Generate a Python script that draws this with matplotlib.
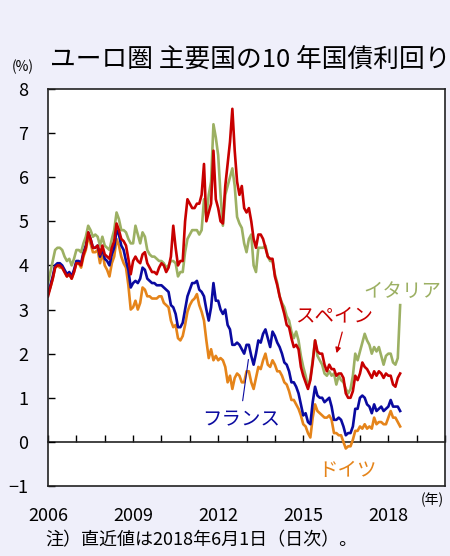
#!/usr/bin/env python3
"""ユーロ圏 主要国の10年国債利回り（月次で読み取り）."""

import numpy as np
import matplotlib
matplotlib.use("Agg")
import matplotlib.pyplot as plt

plt.rcParams["font.family"] = ["Noto Sans CJK JP", "DejaVu Sans"]

# 2006年1月 〜 2018年6月（月次, 150点）
germany = [
    3.35, 3.5, 3.7, 3.95, 4.0, 3.95, 3.95, 3.85, 3.75, 3.8, 3.7, 3.85,
    4.05, 4.05, 3.95, 4.2, 4.35, 4.65, 4.5, 4.3, 4.3, 4.35, 4.05, 4.3,
    4.0, 3.9, 3.75, 4.05, 4.2, 4.6, 4.45, 4.2, 4.05, 3.95, 3.55, 3.0,
    3.05, 3.2, 3.0, 3.15, 3.5, 3.45, 3.3, 3.3, 3.25, 3.25, 3.25, 3.3,
    3.3, 3.15, 3.1, 3.05, 2.75, 2.6, 2.65, 2.35, 2.3, 2.4, 2.65, 2.95,
    3.1, 3.2, 3.25, 3.35, 3.1, 2.95, 2.75, 2.3, 1.9, 2.1, 1.85, 1.95,
    1.85, 1.9, 1.85, 1.7, 1.35, 1.5, 1.2, 1.45, 1.55, 1.5, 1.35, 1.35,
    1.6, 1.6, 1.35, 1.2, 1.45, 1.7, 1.65, 1.85, 2.0, 1.75, 1.7, 1.85,
    1.75, 1.6, 1.6, 1.5, 1.35, 1.3, 1.15, 0.95, 0.95, 0.85, 0.75, 0.6,
    0.4, 0.35, 0.2, 0.1, 0.55, 0.85, 0.7, 0.65, 0.6, 0.55, 0.55, 0.6,
    0.5, 0.2, 0.2, 0.15, 0.15, 0.0, -0.15, -0.1, -0.1, 0.05, 0.25, 0.25,
    0.35, 0.3, 0.4, 0.3, 0.35, 0.3, 0.55, 0.4, 0.45, 0.45, 0.4, 0.4,
    0.55, 0.7, 0.55, 0.55, 0.45, 0.35,
]
france = [
    3.35, 3.55, 3.75, 4.0, 4.05, 4.05, 4.0, 3.9, 3.8, 3.85, 3.75, 3.9,
    4.1, 4.1, 4.05, 4.3, 4.45, 4.75, 4.6, 4.4, 4.4, 4.45, 4.2, 4.4,
    4.15, 4.1, 4.0, 4.25, 4.4, 4.8, 4.7, 4.45, 4.35, 4.1, 3.9, 3.5,
    3.6, 3.65, 3.6, 3.7, 3.95, 3.9, 3.7, 3.65, 3.6, 3.6, 3.55, 3.55,
    3.55, 3.5, 3.45, 3.4, 3.1, 3.05, 2.9, 2.6, 2.6, 2.7, 3.0, 3.3,
    3.45, 3.6, 3.6, 3.65, 3.45, 3.4, 3.3, 3.0, 2.75, 3.05, 3.6, 3.2,
    3.2, 3.0, 2.9, 3.0, 2.65, 2.55, 2.2, 2.2, 2.25, 2.2, 2.1, 2.0,
    2.2, 2.2, 1.95, 1.75, 2.0, 2.3, 2.25, 2.45, 2.55, 2.35, 2.15, 2.5,
    2.4, 2.25, 2.15, 2.0, 1.8, 1.75, 1.6, 1.35, 1.35, 1.25, 1.1, 0.85,
    0.6, 0.65, 0.45, 0.4, 0.9, 1.25, 1.05, 1.0, 1.0, 0.9, 0.95, 1.0,
    0.8, 0.5, 0.5, 0.55, 0.5, 0.35, 0.15, 0.2, 0.2, 0.35, 0.75, 0.75,
    1.0, 1.05, 1.0, 0.85, 0.8, 0.65, 0.85, 0.7, 0.75, 0.8, 0.7, 0.75,
    0.8, 0.95, 0.8, 0.8, 0.8, 0.7,
]
italy = [
    3.6, 3.85, 4.1, 4.35, 4.4, 4.4, 4.35, 4.2, 4.1, 4.15, 4.0, 4.15,
    4.35, 4.35, 4.3, 4.5, 4.65, 4.9, 4.8, 4.65, 4.7, 4.65, 4.45, 4.65,
    4.45, 4.4, 4.35, 4.6, 4.8, 5.2, 5.05, 4.8, 4.8, 4.75, 4.6, 4.5,
    4.5, 4.9, 4.7, 4.5, 4.75, 4.65, 4.35, 4.25, 4.2, 4.2, 4.15, 4.1,
    4.1, 4.05, 3.95, 4.0, 4.1, 4.1, 4.05, 3.75, 3.85, 3.85, 4.3, 4.6,
    4.7, 4.8, 4.8, 4.8, 4.7, 4.8, 5.5, 5.1, 5.6, 5.9, 7.2, 6.9,
    6.5, 5.6, 4.9, 5.6, 5.8, 6.0, 6.2, 5.8, 5.1, 4.95, 4.85, 4.5,
    4.3, 4.6, 4.7, 4.0, 3.85, 4.4, 4.4, 4.4, 4.45, 4.2, 4.1, 4.1,
    3.8, 3.6, 3.3, 3.15, 3.05, 2.85, 2.75, 2.5, 2.35, 2.5, 2.3, 1.95,
    1.7, 1.5, 1.25, 1.45, 1.85, 2.3, 1.95, 1.85, 1.75, 1.55, 1.5, 1.6,
    1.5, 1.55, 1.3, 1.5, 1.4, 1.35, 1.2, 1.1, 1.2, 1.5, 2.0, 1.85,
    2.05, 2.25, 2.45, 2.3, 2.2, 2.0, 2.15, 2.05, 2.15, 1.95, 1.75, 1.95,
    2.0, 2.0, 1.8, 1.75, 1.9, 3.1,
]
spain = [
    3.3, 3.5, 3.7, 3.95, 4.0, 4.0, 3.95, 3.85, 3.75, 3.8, 3.7, 3.85,
    4.05, 4.05, 4.0, 4.25, 4.4, 4.75, 4.6, 4.4, 4.4, 4.45, 4.25, 4.45,
    4.25, 4.2, 4.15, 4.4, 4.55, 4.95, 4.8, 4.6, 4.55, 4.45, 4.15, 3.8,
    4.1, 4.2, 4.1, 4.05, 4.25, 4.3, 4.05, 3.95, 3.85, 3.85, 3.8, 3.95,
    4.05, 4.0, 3.85, 3.95, 4.2, 4.9, 4.4, 4.0, 4.1, 4.1, 5.0, 5.5,
    5.4, 5.3, 5.3, 5.4, 5.4, 5.6, 6.3, 5.0, 5.2, 5.4, 6.6, 5.5,
    5.3, 5.0, 4.95, 5.8, 6.3, 6.8, 7.55, 6.6, 5.9, 5.6, 5.8, 5.3,
    5.2, 5.3, 5.0, 4.6, 4.4, 4.7, 4.7, 4.6, 4.4, 4.2, 4.15, 4.15,
    3.75, 3.55, 3.3, 3.1, 2.9, 2.65, 2.6, 2.35, 2.15, 2.2, 2.1, 1.7,
    1.5, 1.35, 1.2, 1.4, 1.8, 2.3, 2.05, 2.0, 2.0, 1.75, 1.6, 1.75,
    1.65, 1.65, 1.5, 1.55, 1.55, 1.45, 1.1, 1.0, 1.0, 1.15, 1.5, 1.4,
    1.55, 1.8, 1.7, 1.65, 1.55, 1.45, 1.6, 1.5, 1.6, 1.55, 1.45, 1.55,
    1.5, 1.5, 1.3, 1.25, 1.45, 1.55,
]

year_ticks = [2006, 2009, 2012, 2015, 2018]
y_ticks = [-1, 0, 1, 2, 3, 4, 5, 6, 7, 8]

BG = "#efeffa"
C_DE = "#e5841a"
C_FR = "#0a0aa0"
C_IT = "#9cb063"
C_ES = "#c80000"

x = 2006 + np.arange(len(germany)) / 12

fig = plt.figure(figsize=(4.5, 5.56), dpi=100, facecolor=BG)
ax = fig.add_axes([0.1067, 0.1259, 0.8823, 0.7141])
ax.set_facecolor("white")

ax.plot(x, germany, color=C_DE, lw=1.9)
ax.plot(x, france, color=C_FR, lw=1.9)
ax.plot(x, italy, color=C_IT, lw=1.9)
ax.plot(x, spain, color=C_ES, lw=1.9)

ax.set_xlim(2006, 2020)
ax.set_ylim(-1, 8)

# 軸
for sp in ax.spines.values():
    sp.set_color("#222222")
    sp.set_linewidth(1.2)
ax.set_yticks(y_ticks)
ax.tick_params(axis="y", direction="in", length=5, width=1, pad=14,
               labelsize=13)
ax.set_xticks(year_ticks)
ax.tick_params(axis="x", length=0, pad=15, labelsize=13)

# ゼロ線上の年目盛り
zero_ax = ax.secondary_xaxis(0, transform=ax.transData)
zero_ax.set_xticks(np.arange(2006, 2021))
zero_ax.tick_params(axis="x", direction="in", length=5, width=1,
                    labelbottom=False)
zero_ax.spines["bottom"].set_linewidth(1.2)
zero_ax.spines["bottom"].set_color("#222222")

# ラベル
ax.text(2018.5, 3.42, "イタリア", color=C_IT, fontsize=14, ha="center",
        va="center")
ax.text(2016.1, 2.85, "スペイン", color=C_ES, fontsize=14, ha="center",
        va="center")
ax.text(2012.8, 0.5, "フランス", color=C_FR, fontsize=14, ha="center",
        va="center")
ax.text(2016.55, -0.65, "ドイツ", color=C_DE, fontsize=14, ha="center",
        va="center")
ax.annotate("", xy=(2016.15, 1.95), xytext=(2016.4, 2.55),
            arrowprops=dict(arrowstyle="-|>", color=C_ES, lw=0.9,
                            mutation_scale=8))
ax.annotate("", xy=(2013.08, 1.93), xytext=(2012.85, 0.87),
            arrowprops=dict(arrowstyle="-", color=C_FR, lw=0.8))

fig.text(0.111, 0.893, "ユーロ圏 主要国の10 年国債利回り", fontsize=18.5,
         ha="left", va="center")
fig.text(0.051, 0.880, "(%)", fontsize=10, ha="center", va="center")
fig.text(0.96, 0.101, "(年)", fontsize=10, ha="center", va="center")
fig.text(0.1, 0.012, "注）直近値は2018年6月1日（日次）。", fontsize=13,
         ha="left", va="bottom")

fig.savefig("out.png", dpi=100, facecolor=BG)
